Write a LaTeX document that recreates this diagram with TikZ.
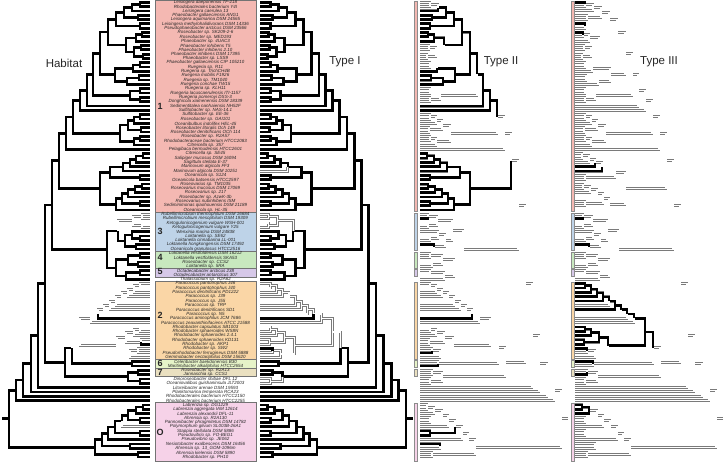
\documentclass[tikz,border=0pt]{standalone}
\usepackage{fontspec}
\setmainfont{Liberation Sans}
\definecolor{cRed}{RGB}{244,184,178}
\definecolor{cBlue}{RGB}{190,211,232}
\definecolor{cGreen}{RGB}{200,232,190}
\definecolor{cPurple}{RGB}{214,200,232}
\definecolor{cOrange}{RGB}{250,214,166}
\definecolor{cLgreen}{RGB}{230,243,200}
\definecolor{cKhaki}{RGB}{234,224,192}
\definecolor{cPink}{RGB}{246,210,232}
\foreach \i in {0,...,105}{\expandafter\xdef\csname ty@L\i\endcsname{\fpeval{round(2.2+4.33*\i,3)}}}
\newcommand\nd[4]{%
  \expandafter\xdef\csname ty@#1\endcsname{\fpeval{round((\csname ty@#3\endcsname+\csname ty@#4\endcsname)/2,3)}}%
  \expandafter\xdef\csname kA@#1\endcsname{#3}%
  \expandafter\xdef\csname kB@#1\endcsname{#4}%
  \expandafter\xdef\csname par@#3\endcsname{#1}%
  \expandafter\xdef\csname par@#4\endcsname{#1}%
  \edef\tmpy{\csname ty@#1\endcsname}%
  \coordinate (#1) at (#2,\tmpy);}
\newcommand\drawsub[1]{%
  \ifcsname kA@#1\endcsname
    \edef\tmpa{\csname kA@#1\endcsname}%
    \edef\tmpb{\csname kB@#1\endcsname}%
    \draw[br] (#1) |- (\tmpa);
    \draw[br] (#1) |- (\tmpb);
    \edef\mynxt{\noexpand\drawsub{\tmpa}\noexpand\drawsub{\tmpb}}%
    \expandafter\mynxt
  \fi}
\newcommand\paintsub[1]{%
  \edef\pp{\csname par@#1\endcsname}%
  \draw[br] (\pp) |- (#1);
  \drawsub{#1}}
\newcommand\paint[2]{\tikzset{br/.style={#1}}\foreach \s in {#2}{\paintsub{\s}}}
\newcommand\deftree{%
\foreach \i in {0,...,105}{\coordinate (L\i) at (150,{2.2+4.33*\i});}
\nd{n1}{140}{L0}{L1}
\nd{n2}{132}{n1}{L2}
\nd{n3}{138}{L3}{L4}
\nd{n4}{124}{n2}{n3}
\nd{n5}{140}{L5}{L6}
\nd{Bh1}{116}{n4}{n5}
\nd{n6}{142}{L7}{L8}
\nd{n7}{136}{n6}{L9}
\nd{n8}{141}{L10}{L11}
\nd{n10}{143}{L12}{L13}
\nd{n9}{134}{n8}{n10}
\nd{n11}{126}{n7}{n9}
\nd{Bh}{108}{Bh1}{n11}
\nd{n12}{140}{L14}{L15}
\nd{n13}{133}{n12}{L16}
\nd{n14}{139}{L17}{L18}
\nd{n15}{127}{n14}{L19}
\nd{Bi}{115}{n13}{n15}
\nd{Bf}{100}{Bh}{Bi}
\nd{n16}{140}{L20}{L21}
\nd{n17}{140}{L22}{L23}
\nd{Bg}{130}{n16}{n17}
\nd{Be}{93}{Bf}{Bg}
\nd{Bd}{87}{Be}{L24}
\nd{Bb}{80}{Bd}{L25}
\nd{n18}{140}{L26}{L27}
\nd{n19}{134}{n18}{L28}
\nd{n20}{141}{L29}{L30}
\nd{n21}{128}{n19}{n20}
\nd{n22}{140}{L31}{L32}
\nd{n23}{134}{n22}{L33}
\nd{Bc}{120}{n21}{n23}
\nd{Ba}{73}{Bb}{Bc}
\nd{B}{66}{Ba}{L34}
\nd{n24}{143}{L35}{L36}
\nd{n25}{136}{n24}{L37}
\nd{n26}{130}{n25}{L38}
\nd{n27}{123}{n26}{L39}
\nd{n28}{140}{L40}{L41}
\nd{C1}{110}{n27}{n28}
\nd{n29}{142}{L42}{L43}
\nd{n30}{135}{n29}{L44}
\nd{n31}{128}{n30}{L45}
\nd{n32}{140}{L46}{L47}
\nd{n33}{122}{n31}{n32}
\nd{C2}{116}{n33}{L48}
\nd{C}{100}{C1}{C2}
\nd{A}{59}{B}{C}
\nd{b1}{142}{L49}{L50}
\nd{b2}{142}{L51}{L52}
\nd{BL1}{133}{b1}{b2}
\nd{b4}{140}{L54}{L55}
\nd{b3}{132}{L53}{b4}
\nd{b5}{136}{L56}{L57}
\nd{BL2}{125}{b3}{b5}
\nd{BL}{118}{BL1}{BL2}
\nd{g1}{140}{L58}{L59}
\nd{g2}{138}{L60}{L61}
\nd{GR}{128}{g1}{g2}
\nd{p1}{140}{L62}{L63}
\nd{PU}{126}{p1}{L64}
\nd{GP}{116}{GR}{PU}
\nd{BG}{107}{BL}{GP}
\nd{UP}{52}{A}{BG}
\nd{P9}{140}{L65}{L66}
\nd{P8}{134}{P9}{L67}
\nd{P7}{128}{P8}{L68}
\nd{P6}{122}{P7}{L69}
\nd{P5}{116}{P6}{L70}
\nd{P4}{110}{P5}{L71}
\nd{P3}{104}{P4}{L72}
\nd{P2}{98}{P3}{L73}
\nd{P1}{91}{P2}{L74}
\nd{r1}{140}{L75}{L76}
\nd{r2}{134}{r1}{L77}
\nd{r3}{141}{L78}{L79}
\nd{r4}{126}{r2}{r3}
\nd{r5}{138}{L80}{L81}
\nd{r6}{130}{r5}{L82}
\nd{RHO}{117}{r4}{r6}
\nd{O1}{80}{P1}{RHO}
\nd{LG}{132}{L83}{L84}
\nd{ORG}{72}{O1}{LG}
\nd{k1}{138}{L85}{L86}
\nd{k2}{140}{L87}{L88}
\nd{KW}{128}{k1}{k2}
\nd{LOW}{65}{ORG}{KW}
\nd{M5}{45}{UP}{LOW}
\nd{M4}{38}{M5}{L89}
\nd{M3}{31}{M4}{L90}
\nd{M2}{23}{M3}{L91}
\nd{M1}{16}{M2}{L92}
\nd{n34}{143}{L93}{L94}
\nd{n35}{136}{n34}{L95}
\nd{n36}{140}{L96}{L97}
\nd{n37}{128}{n35}{n36}
\nd{n38}{122}{n37}{L98}
\nd{n39}{140}{L99}{L100}
\nd{n40}{115}{n38}{n39}
\nd{n41}{108}{n40}{L101}
\nd{n42}{130}{L102}{L103}
\nd{n43}{102}{n41}{n42}
\nd{n44}{138}{L104}{L105}
\nd{PK}{95}{n43}{n44}
\nd{R}{9}{M1}{PK}
\expandafter\xdef\csname par@R\endcsname{RS}%
\edef\tmpy{\csname ty@R\endcsname}%
\coordinate (RS) at (2,\tmpy);
}
\newcommand\lab[2]{\node[lbl] (t#1) at (205.5,{2.2+4.33*#1}) {#2};}
\newcommand\bandrow[3]{%
  \path[bandbox,fill=#1] (155,#2) rectangle (256,#3);
  \path[stripbox,fill=#1] (414.3,{#2+0.7}) rectangle (417.3,{#3-0.7});
  \path[stripbox,fill=#1] (571.3,{#2+0.7}) rectangle (574.3,{#3-0.7});}
\begin{document}
\begin{tikzpicture}[x=1pt,y=-1pt,
  blk/.style={line width=2.7pt,draw=black},
  gout/.style={line width=2.9pt,draw=black!52},
  gin/.style={line width=1.1pt,draw=white},
  lbl/.style={font=\fontsize{4.5}{4.5}\selectfont\itshape,inner sep=0pt,text=black!85},
  ttl/.style={font=\fontsize{11.5}{12}\selectfont,inner sep=0pt,text=black!85},
  gnum/.style={font=\fontsize{9}{9}\selectfont\bfseries,inner sep=0pt,text=black!85},
  bandbox/.style={draw=black!55,line width=0.5pt},
  stripbox/.style={draw=black!45,line width=0.3pt}]
\useasboundingbox (0,0) rectangle (727,462);
% colour bands and strips
\bandrow{cRed}{0.3}{212.2}
\bandrow{cBlue}{212.2}{251.2}
\bandrow{cGreen}{251.2}{268.5}
\bandrow{cPurple}{268.5}{277.2}
\bandrow{cOrange}{281.5}{359.4}
\bandrow{cLgreen}{359.4}{368.1}
\bandrow{cKhaki}{368.1}{376.7}
\bandrow{cPink}{402.7}{461.7}
% taxon labels
\lab{0}{Leisingera daeponensis TF-218}
\lab{1}{Rhodobacterales bacterium Y4I}
\lab{2}{Leisingera caerulea 13}
\lab{3}{Phaeobacter gallaeciensis ANG1}
\lab{4}{Leisingera aquimarina DSM 24565}
\lab{5}{Leisingera methylohalidivorans DSM 14336}
\lab{6}{Pseudophaeobacter arcticus DSM 23566}
\lab{7}{Roseobacter sp. SK209-2-6}
\lab{8}{Roseobacter sp. MED193}
\lab{9}{Phaeobacter sp. 4UAC3}
\lab{10}{Phaeobacter inhibens T5}
\lab{11}{Phaeobacter inhibens 2.10}
\lab{12}{Phaeobacter inhibens DSM 17395}
\lab{13}{Phaeobacter sp. LSS9}
\lab{14}{Phaeobacter gallaeciensis CIP 105210}
\lab{15}{Ruegeria sp. R11}
\lab{16}{Ruegeria sp. TrichCH4B}
\lab{17}{Ruegeria mobilis F1926}
\lab{18}{Ruegeria sp. TM1040}
\lab{19}{Ruegeria conchae TW15}
\lab{20}{Ruegeria sp. KLH11}
\lab{21}{Ruegeria lacuscaerulensis ITI-1157}
\lab{22}{Ruegeria pomeroyi DSS-3}
\lab{23}{Donghicola xiamenensis DSM 18339}
\lab{24}{Sedimentitalea nanhaiensis NH52F}
\lab{25}{Sulfitobacter sp. NAS-14.1}
\lab{26}{Sulfitobacter sp. EE-36}
\lab{27}{Roseobacter sp. GAI101}
\lab{28}{Oceanibulbus indolifex HEL-45}
\lab{29}{Roseobacter litoralis Och 149}
\lab{30}{Roseobacter denitrificans OCh 114}
\lab{31}{Roseobacter sp. R2A57}
\lab{32}{Rhodobacteraceae bacterium HTCC2083}
\lab{33}{Citreicella sp. 357}
\lab{34}{Pelagibaca bermudensis HTCC2601}
\lab{35}{Citreicella sp. SE45}
\lab{36}{Salipiger mucosus DSM 16094}
\lab{37}{Sagittula stellata E-37}
\lab{38}{Marinovum algicola FF3}
\lab{39}{Marinovum algicola DSM 10251}
\lab{40}{Oceanicola sp. S124}
\lab{41}{Oceanicola batsensis HTCC2597}
\lab{42}{Roseovarius sp. TM1035}
\lab{43}{Roseovarius mucosus DSM 17069}
\lab{44}{Roseovarius sp. 217}
\lab{45}{Roseobacter sp. AzwK-3b}
\lab{46}{Roseovarius nubinhibens ISM}
\lab{47}{Sediminimonas qiaohouensis DSM 21189}
\lab{48}{Oceanicola sp. HL-35}
\lab{49}{Rubellimicrobium thermophilum DSM 16684}
\lab{50}{Rubellimicrobium mesophilum DSM 19309}
\lab{51}{Ketogulonicogenium vulgare WSH-001}
\lab{52}{Ketogulonicogenium vulgare Y25}
\lab{53}{Wenxinia marina DSM 24838}
\lab{54}{Loktanella sp. SE62}
\lab{55}{Loktanella cinnabarina LL-001}
\lab{56}{Loktanella hongkongensis DSM 17492}
\lab{57}{Oceanicola granulosus HTCC2516}
\lab{58}{Loktanella vestfoldensis DSM 16212}
\lab{59}{Loktanella vestfoldensis SKA53}
\lab{60}{Roseobacter sp. CCS2}
\lab{61}{Loktanella sp. 5RA}
\lab{62}{Octadecabacter arcticus 238}
\lab{63}{Octadecabacter antarcticus 307}
\lab{64}{Thalassobium sp. R2A62}
\lab{65}{Paracoccus pantotrophus J46}
\lab{66}{Paracoccus pantotrophus J40}
\lab{67}{Paracoccus denitrificans PD1222}
\lab{68}{Paracoccus sp. J39}
\lab{69}{Paracoccus sp. J55}
\lab{70}{Paracoccus sp. TRP}
\lab{71}{Paracoccus denitrificans SD1}
\lab{72}{Paracoccus sp. N5}
\lab{73}{Paracoccus aminophilus JCM 7686}
\lab{74}{Paracoccus zeaxanthinifaciens ATCC 21588}
\lab{75}{Rhodobacter capsulatus SB1003}
\lab{76}{Rhodobacter sphaeroides WS8N}
\lab{77}{Rhodobacter sphaeroides 2.4.1}
\lab{78}{Rhodobacter sphaeroides KD131}
\lab{79}{Rhodobacter sp. AKP1}
\lab{80}{Rhodobacter sp. SW2}
\lab{81}{Pseudorhodobacter ferrugineus DSM 5888}
\lab{82}{Gemmobacter nectariphilus DSM 15620}
\lab{83}{Celeribacter baekdonensis B30}
\lab{84}{Maritimibacter alkaliphilus HTCC2654}
\lab{85}{Roseobacter sp. R2A13}
\lab{86}{Jannaschia sp. CCS1}
\lab{87}{Dinoroseobacter shibae DFL 12}
\lab{88}{Oceaniovalibus guishaninsula JLT2003}
\lab{89}{Litoreibacter arenae DSM 19593}
\lab{90}{Planktomarina temperata RCA23}
\lab{91}{Rhodobacterales bacterium HTCC2150}
\lab{92}{Rhodobacterales bacterium HTCC2255}
\lab{93}{Labrenzia sp. DG1229}
\lab{94}{Labrenzia aggregata IAM 12614}
\lab{95}{Labrenzia alexandrii DFL-11}
\lab{96}{Ahrensia sp. R2A130}
\lab{97}{Pannonibacter phragmitetus DSM 14782}
\lab{98}{Polymorphum gilvum SL003B-26A1}
\lab{99}{Stappia stellulata DSM 5886}
\lab{100}{Pseudovibrio sp. FO-BEG1}
\lab{101}{Pseudovibrio sp. JE062}
\lab{102}{Nesiotobacter exalbescens DSM 16456}
\lab{103}{Ahrensia sp. 13\_GOM-1096m}
\lab{104}{Ahrensia kielensis DSM 5890}
\lab{105}{Rhodobacter sp. PH10}
% group numbers
\node[gnum] (gn1) at (160,106) {1};
\node[gnum] (gn3) at (160,231) {3};
\node[gnum] (gn4) at (160,257) {4};
\node[gnum] (gn5) at (160,271) {5};
\node[gnum] (gn2) at (160,315) {2};
\node[gnum] (gn6) at (160,363.7) {6};
\node[gnum] (gn7) at (160,372.4) {7};
\node[gnum] (gnO) at (160,432) {O};
% Habitat tree
\begin{scope}
\deftree
\paint{blk}{R}
\paint{gout}{O1,BL1,L98}
\paint{gin}{O1,BL1,L98}
\paint{blk}{L73,L79}
\end{scope}
% Type I tree
\begin{scope}[xshift=415.25pt,xscale=-1.035]
\deftree
\paint{blk}{R}
\paint{gout}{O1,BL1,L39,k2}
\paint{gin}{O1,BL1,L39,k2}
\paint{blk}{L73,L80}
\end{scope}
% Type II tree
\begin{scope}[xshift=570pt,xscale=-1]
\deftree
\paint{gout}{R}
\paint{gin}{R}
\paint{blk}{Bb,C,L50,L56,L73,L81,L84,n39,L102}
\paint{gout}{n1,n9,n12,Bg}
\paint{gin}{n1,n9,n12,Bg}
\end{scope}
% Type III tree
\begin{scope}[xshift=725pt,xscale=-1]
\deftree
\paint{gout}{R}
\paint{gin}{R}
\paint{blk}{O1,L0,L5,L7,L38,L39,L50,L56,L83,L86,n34,L95}
\paint{gout}{L70,L72,L73,L74,r6}
\paint{gin}{L70,L72,L73,L74,r6}
\paint{blk}{L80}
\end{scope}
% titles
\node[ttl] (tHab) at (64,63) {Habitat};
\node[ttl] (tT1) at (345,62) {Type I};
\node[ttl] (tT2) at (501,62) {Type II};
\node[ttl] (tT3) at (659,62) {Type III};
\end{tikzpicture}
\end{document}
